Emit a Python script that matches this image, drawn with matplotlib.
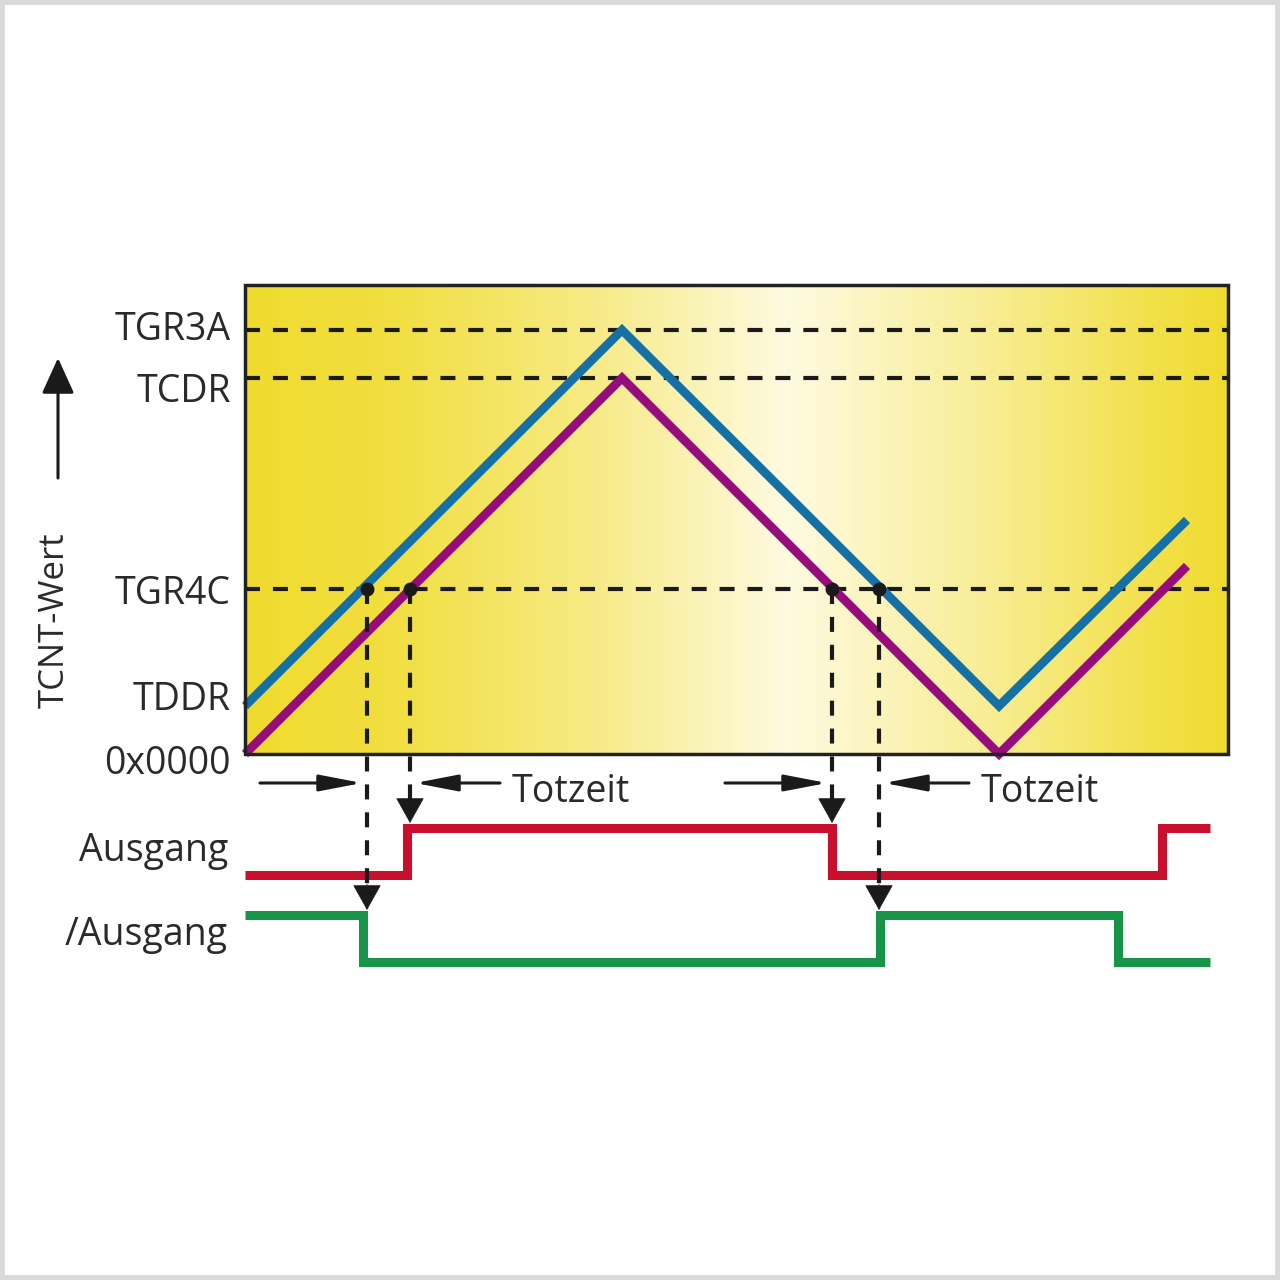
"""Dead-time generation in complementary PWM mode (TCNT triangle vs. TGR4C)."""

import matplotlib

matplotlib.use("Agg")

import matplotlib.pyplot as plt
import numpy as np
from matplotlib.patches import Rectangle

# --- data (time in counter ticks, values in counter units) ---
level_names = ["TGR3A", "TCDR", "TGR4C", "TDDR", "0x0000"]
level_values = [424, 376, 165, 49, 0]
dashed_levels = [424, 376, 165]

tcnt_t = [0, 377, 754, 942]
tcnt_v = [0, 376, 0, 188]            # magenta: counter
tcnt_ofs_t = [0, 377, 754, 942]
tcnt_ofs_v = [48, 424, 48, 234]      # blue: counter + TDDR

compare_t = [122, 165, 587, 634]     # crossings with TGR4C
compare_target = ["inv", "out", "out", "inv"]

out_t = [0, 162, 587, 917, 965]      # Ausgang
out_v = [0, 1, 0, 1, 1]
inv_t = [0, 118, 635, 873, 965]      # /Ausgang
inv_v = [1, 0, 1, 0, 0]

box_t_end = 983
box_v_top = 469

# --- layout / style ---
TEXT = "#2a2a2a"
FONT = "Open Sans"
out_base, inv_base, row_h = -121, -208, 47
deadtime_y = -29

fig = plt.figure(figsize=(12.8, 12.8), dpi=100)
ax = fig.add_axes([0, 0, 1, 1])
ax.set_xlim(-245, 1035)
ax.set_ylim(-526, 754)
ax.axis("off")

# yellow gradient background of the counter window
u = np.linspace(0, 1, 400)
white = np.interp(u, [0, 0.15, 0.35, 0.55, 0.75, 0.9, 1.0],
                  [0.0, 0.1, 0.45, 0.93, 0.55, 0.2, 0.0])
yellow = np.array([0.94, 0.86, 0.18])
grad = yellow[None, :] * (1 - white[:, None]) + np.array([1.0, 0.99, 0.93])[None, :] * white[:, None]
ax.imshow(grad[None, :, :], extent=(0, box_t_end, 0, box_v_top), aspect="auto", zorder=0)
ax.add_patch(Rectangle((0, 0), box_t_end, box_v_top, fill=False,
                       edgecolor="#222222", lw=2.5, zorder=5))

dash = (0, (3.6, 3.1))
for lv in dashed_levels:
    ax.plot([0, box_t_end], [lv, lv], color="#1a1a1a", lw=3, ls=dash, zorder=2)

line_kw = dict(lw=6.3, solid_joinstyle="miter", solid_capstyle="butt", zorder=3)
ax.plot(tcnt_ofs_t, tcnt_ofs_v, color="#1570a6", **line_kw)
ax.plot(tcnt_t, tcnt_v, color="#970c7c", **line_kw)

# level labels
label_shift = [0, -14, -5, 5, -10]
for name, lv, dy in zip(level_names, level_values, label_shift):
    ax.text(-14, lv + dy, name, ha="right", va="center", fontsize=27,
            color=TEXT, family=FONT)

# output signals
step_kw = dict(where="post", lw=6.5, solid_joinstyle="miter",
               solid_capstyle="butt", zorder=3)
ax.step(out_t, [out_base + v * row_h for v in out_v], color="#c8102e", **step_kw)
ax.step(inv_t, [inv_base + v * row_h for v in inv_v], color="#179447", **step_kw)
ax.text(-17, out_base + row_h / 2, "Ausgang", ha="right", va="center",
        fontsize=27, color=TEXT, family=FONT)
ax.text(-17, inv_base + row_h / 2 + 3, "/Ausgang", ha="right", va="center",
        fontsize=27, color=TEXT, family=FONT)

# compare points, dashed drop lines and arrowheads
ax.plot(compare_t, [level_values[2]] * len(compare_t), "o", color="#1a1a1a",
        ms=9, zorder=6)
for t, tgt in zip(compare_t, compare_target):
    tip = (inv_base + row_h + 5) if tgt == "inv" else (out_base + row_h + 5)
    ax.plot([t, t], [level_values[2], tip + 24], color="#1a1a1a", lw=3,
            ls=dash, zorder=4)
    ax.annotate("", xy=(t, tip), xytext=(t, tip + 26),
                arrowprops=dict(arrowstyle="-|>,head_length=17,head_width=9.5",
                                mutation_scale=1, color="#1a1a1a", lw=0.5,
                                shrinkA=0, shrinkB=0), zorder=7)

# dead-time markers
harrow = dict(arrowstyle="-|>,head_length=26,head_width=5", mutation_scale=1,
              color="#1a1a1a", lw=2.2, shrinkA=0, shrinkB=0)
for (a, b) in [(0, 1), (2, 3)]:
    ta, tb = compare_t[a], compare_t[b]
    ax.annotate("", xy=(ta - 5, deadtime_y), xytext=(ta - 107, deadtime_y),
                arrowprops=harrow)
    ax.annotate("", xy=(tb + 5, deadtime_y), xytext=(tb + 90, deadtime_y),
                arrowprops=harrow)
    ax.text(tb + 102, deadtime_y - 9, "Totzeit", ha="left", va="center",
            fontsize=27, color=TEXT, family=FONT)

# axis caption with arrow
ax.text(-190, 134, "TCNT-Wert", rotation=90, ha="center", va="center",
        fontsize=25, color=TEXT, family=FONT)
ax.annotate("", xy=(-187, 396), xytext=(-187, 276),
            arrowprops=dict(arrowstyle="-|>,head_length=22,head_width=10",
                            mutation_scale=1, color="#1a1a1a", lw=2.2,
                            shrinkA=0, shrinkB=0))

fig.patches.append(Rectangle((0, 0), 1, 1, transform=fig.transFigure,
                             fill=False, edgecolor="#d9d9d9", lw=7))
fig.savefig("out.png", dpi=100, facecolor="white")
